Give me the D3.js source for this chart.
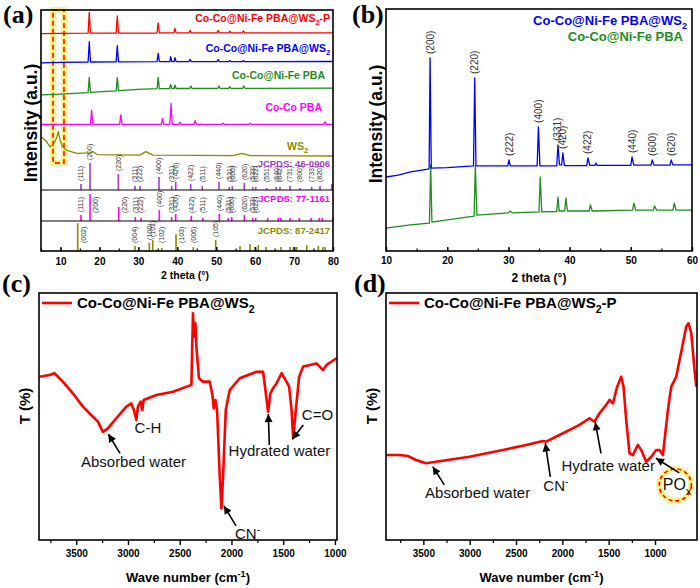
<!DOCTYPE html>
<html>
<head>
<meta charset="utf-8">
<script src="https://cdn.jsdelivr.net/npm/d3@7"></script>
<style>
  body { margin: 0; background: #fff; }
  svg { font-family: "Liberation Sans", Arial, sans-serif; }
  .frame { fill: none; stroke: #000; stroke-width: 1.6; }
</style>
</head>
<body>
<svg id="fig" width="700" height="588"></svg>
<script>
// ---------- (a) XRD, 2theta (deg) vs stacked intensity (a.u.)
const xrdPbaWs2P = [[5,86.9],[10,87.0],[17.1,87.1],[17.4,98.7],[17.7,87.1],[24.3,87.2],[24.6,96.7],[24.9,87.2],[34.8,87.2],[35.1,92.9],[35.4,87.3],[39.1,87.3],[39.4,89.8],[39.7,87.3],[43.0,87.3],[43.3,88.7],[43.6,87.3],[50.2,87.3],[50.5,88.7],[50.8,87.3],[53.2,87.3],[53.5,88.3],[53.8,87.3],[56.7,87.3],[57.0,88.5],[57.3,87.3],[80,87.3]];
const xrdPbaWs2 = [[5,70.6],[10,70.9],[17.1,71.1],[17.4,82.4],[17.7,71.1],[24.3,71.2],[24.6,80.2],[24.9,71.2],[34.8,71.3],[35.1,75.9],[35.4,71.3],[38.1,71.3],[38.3,74.1],[38.6,71.3],[39.2,71.3],[39.4,73.5],[39.7,71.3],[43.0,71.3],[43.3,72.6],[43.6,71.3],[50.2,71.3],[50.5,72.4],[50.8,71.3],[53.2,71.3],[53.5,71.9],[53.8,71.3],[56.7,71.3],[57.0,71.9],[57.3,71.3],[80,71.4]];
const xrdPba = [[5,52.8],[10,53.3],[17.1,54.1],[17.4,62.6],[17.7,54.2],[24.3,55.1],[24.6,62.4],[24.9,55.2],[30,55.9],[34.8,56.3],[35.1,62.6],[35.4,56.3],[38.0,56.4],[38.3,58.7],[38.6,56.4],[39.2,56.4],[39.4,58.3],[39.7,56.4],[43.2,56.4],[43.5,57.8],[43.8,56.4],[50.4,56.5],[50.7,57.8],[51.0,56.5],[53.2,56.5],[53.5,57.4],[53.8,56.5],[56.8,56.5],[57.1,57.8],[57.4,56.5],[80,56.6]];
const xrdCoCo = [[5,36.4],[17.7,36.5],[18.0,44.4],[18.3,36.5],[25.2,36.5],[25.5,41.7],[25.8,36.5],[35.9,36.5],[36.2,39.8],[36.5,36.5],[38.1,36.5],[38.4,48.1],[38.7,36.5],[40.4,36.5],[40.7,37.6],[41.0,36.5],[44.3,36.5],[44.6,38.5],[44.9,36.5],[51.5,36.5],[51.8,37.1],[52.1,36.5],[58.4,36.5],[58.7,37.1],[59.0,36.5],[77.7,36.5],[78.0,37.9],[78.3,36.5],[80,36.5]];
const xrdWs2 = [[5,29.6],[6.3,27.2],[7.3,24.1],[8.1,25.0],[8.9,28.3],[9.45,32.4],[9.9,27.8],[10.4,24.4],[11.4,22.2],[14.2,20.4],[17.6,20.6],[18.4,21.3],[19.4,19.7],[25,19.5],[30.4,19.4],[31.9,21.3],[33.8,19.4],[45,19.2],[54.3,19.1],[56.6,20.4],[58.7,19.1],[70,19.0],[80,18.9]];

// reference patterns: position (deg), relative intensity (%), hkl
const pos46 = [15.27,17.59,24.86,29.15,30.43,35.31,38.57,39.6,43.45,46.43,50.72,53.37,54.14,57.22,59.38,60.15,62.97,65.4,66.39,68.96,71.53,74.53,76.67,79.67];
const int46 = [21,96,57,14,14,46,14,29,21,14,29,11,14,25,11,11,7,11,11,14,7,11,14,21];
const hkl46 = ["(111)","(200)","(220)","(311)","(222)","(400)","(331)","(420)","(422)","(511)","(440)","(531)","(600)","(620)","(533)","(622)","(551)","(640)","(642)","(731)","(800)","(733)","(820)",""];
const pos77 = [15.27,17.59,24.96,29.22,30.69,35.39,38.57,39.6,43.61,46.54,50.8,53.11,53.99,57.22,59.38,60.15,63.23,65.96,66.57,68.96,71.35,74.36,76.49,77.26,79.93];
const int77 = [21,96,50,14,11,39,14,25,18,11,25,11,14,21,11,11,11,11,11,11,11,11,11,11,11];
const hkl77 = ["(111)","(200)","(220)","(311)","(222)","(400)","(331)","(420)","(422)","(511)","(440)","(531)","(600)","(620)","(533)","(622)","","","","","","","","",""];
const pos87 = [14.43,29.15,32.82,33.69,36.0,39.68,44.12,49.87,56.12,58.69,59.97,60.82,62.8,66.65,68.96,69.81,70.68,73.25,76.23,77.36,77.95];
const int87 = [99,18,29,39,11,60,14,39,18,25,14,21,14,14,14,14,14,21,18,14,14];
const hkl87 = ["(002)","(004)","(100)","(101)","(102)","(103)","(006)","(105)","","","","","","","","","","","","",""];

// ---------- (b) XRD zoom
const xrdBWs2 = [[10,30.7],[12,31.5],[14,32.8],[16.9,34.0],[17.05,34.4],[17.2,80.1],[17.4,34.4],[20,34.6],[24.3,35.3],[24.5,71.8],[24.7,35.3],[29.9,35.3],[30.1,37.8],[30.3,35.3],[34.7,35.3],[34.9,51.5],[35.15,35.3],[37.9,35.3],[38.1,44.0],[38.35,35.7],[38.7,35.7],[38.9,40.7],[39.15,35.4],[42.8,35.4],[43.0,38.6],[43.3,35.5],[44.1,35.5],[44.3,36.5],[44.5,35.5],[50.0,35.5],[50.2,39.0],[50.5,35.6],[53.3,35.6],[53.5,37.8],[53.8,35.6],[56.4,35.6],[56.6,37.8],[56.9,35.7],[60,35.7]];
const xrdBPba = [[10,9.5],[14,10.8],[17.1,11.6],[17.3,35.7],[17.5,12.0],[20,12.9],[24.4,14.5],[24.6,35.3],[24.85,14.9],[30.0,15.8],[30.3,16.6],[30.6,15.8],[35.0,16.2],[35.2,30.7],[35.45,16.2],[37.9,16.4],[38.1,22.4],[38.3,16.6],[39.2,16.6],[39.4,22.0],[39.65,16.6],[43.2,16.6],[43.4,19.1],[43.7,16.6],[50.3,17.0],[50.5,19.9],[50.8,17.0],[53.7,17.0],[53.9,18.7],[54.2,17.0],[56.9,17.0],[57.1,19.9],[57.4,17.0],[60,17.0]];
const bPeakPos = [17.2,24.5,30.1,34.9,38.1,38.9,43.0,50.2,53.5,56.6];
const bPeakHkl = ["(200)","(220)","(222)","(400)","(331)","(420)","(422)","(440)","(600)","(620)"];

// ---------- (c), (d) FTIR, wavenumber (cm-1) vs T (%)
const ftirWs2 = [[3855,66.1],[3758,66.8],[3710,67.5],[3662,65.5],[3630,64.1],[3533,59.4],[3436,54.0],[3339,49.9],[3291,47.9],[3243,43.8],[3194,45.2],[3113,49.3],[3016,54.0],[2968,55.3],[2943,52.6],[2919,48.6],[2904,54.0],[2878,56.0],[2861,52.6],[2849,56.7],[2726,58.7],[2565,60.0],[2387,62.8],[2372,91.8],[2362,82.3],[2348,87.7],[2339,78.3],[2314,65.5],[2275,64.1],[2210,64.1],[2184,58.7],[2171,53.3],[2155,56.7],[2139,52.6],[2113,25.6],[2097,12.8],[2081,25.6],[2055,52.6],[2017,60.7],[1920,65.5],[1758,68.1],[1694,68.1],[1668,59.4],[1646,51.9],[1623,59.4],[1598,61.4],[1565,63.4],[1516,67.5],[1468,64.1],[1443,62.1],[1419,52.6],[1404,41.2],[1378,52.6],[1346,66.1],[1307,70.2],[1178,71.5],[1114,68.8],[1081,70.9],[984,73.6]];
const ftirWs2P = [[3900,34.4],[3759,34.4],[3668,34.0],[3579,32.4],[3471,31.1],[3363,31.7],[3003,33.7],[2642,36.4],[2391,38.5],[2210,40.1],[2175,39.8],[2031,42.5],[1815,46.6],[1707,49.3],[1653,47.9],[1599,51.3],[1527,54.7],[1491,56.7],[1455,55.3],[1408,62.1],[1365,66.1],[1340,62.1],[1311,48.6],[1275,35.1],[1239,34.4],[1185,38.5],[1149,36.4],[1095,31.7],[1041,33.7],[987,36.4],[951,36.4],[915,34.4],[861,52.6],[825,62.1],[771,66.1],[699,79.6],[663,86.4],[638,87.7],[609,83.7],[573,68.8],[555,62.1]];

const RED = "#ff0000", BLUE = "#0000ff", GREEN = "#1e8c1e", MAG = "#ff00ff", OLIVE = "#8a8a00", PURPLE = "#a23bd8";
const svg = d3.select("#fig");
const FONT = "'Liberation Sans', Arial, sans-serif";

svg.append("defs").append("marker")
  .attr("id", "arr").attr("viewBox", "0 0 10 10").attr("refX", 10).attr("refY", 5)
  .attr("markerWidth", 9).attr("markerHeight", 8).attr("markerUnits", "userSpaceOnUse")
  .attr("orient", "auto")
  .append("path").attr("d", "M0,0L10,5L0,10z").attr("fill", "#000");

const lineOf = (x, y) => d3.line().x(d => x(d[0])).y(d => y(d[1]));

// text with sub/superscript parts
function rich(t, segs, fs) {
  let shift = 0;
  segs.forEach(([s, m]) => {
    const target = m === "sub" ? fs * 0.3 : m === "sup" ? -fs * 0.4 : 0;
    t.append("tspan").attr("dy", target - shift).attr("font-size", m ? fs * 0.7 : fs).text(s);
    shift = target;
  });
}

function bottomAxis(g, x, y0, majors, minors, inside, fs, pad) {
  const big = inside ? -4 : 5, small = inside ? -2.5 : 3;
  g.append("g").attr("transform", `translate(0,${y0})`)
    .call(d3.axisBottom(x).tickValues(minors).tickSize(small).tickFormat(""))
    .call(a => a.select(".domain").remove())
    .selectAll("line").attr("stroke-width", 1.2);
  g.append("g").attr("transform", `translate(0,${y0})`)
    .attr("font-family", FONT).attr("font-size", fs).attr("font-weight", "bold")
    .call(d3.axisBottom(x).tickValues(majors).tickSize(big).tickPadding(pad).tickFormat(d3.format("d")))
    .call(a => a.select(".domain").remove())
    .call(a => a.selectAll("line").attr("stroke-width", 1.4))
    .call(a => a.selectAll("text").attr("fill", "#000"));
}

function frame(g, P) {
  g.append("rect").attr("class", "frame").attr("x", P.l).attr("y", P.t)
    .attr("width", P.r - P.l).attr("height", P.b - P.t);
}

function yTitle(g, x, y, fs, txt) {
  g.append("text").attr("transform", `translate(${x},${y}) rotate(-90)`)
    .attr("text-anchor", "middle").attr("font-size", fs).attr("font-weight", "bold").text(txt);
}

function panelTag(x, y, s) {
  svg.append("text").attr("x", x).attr("y", y).attr("font-family", "'Liberation Serif', 'Times New Roman', serif")
    .attr("font-size", 26).attr("font-weight", "bold").text(s);
}

// ================= (a)
const A = {l: 41, r: 333, t: 10, b: 251, d1: 190, d2: 221};
const xA = d3.scaleLinear().domain([5, 80]).range([A.l, A.r]);
const yA = d3.scaleLinear().domain([0, 100]).range([A.d1, A.t]);
const gA = svg.append("g");

// highlight box around WS2 low-angle peak
const hl = [8.1, 10.9];
gA.append("rect").attr("x", xA(hl[0])).attr("y", A.t).attr("width", xA(hl[1]) - xA(hl[0])).attr("height", 153)
  .attr("fill", "none").attr("stroke", "#fff06a").attr("stroke-width", 6).attr("opacity", 0.8);
gA.append("rect").attr("x", xA(hl[0])).attr("y", A.t).attr("width", xA(hl[1]) - xA(hl[0])).attr("height", 153)
  .attr("fill", "none").attr("stroke", RED).attr("stroke-width", 1.5).attr("stroke-dasharray", "5,3");

[[xrdPbaWs2P, RED], [xrdPbaWs2, BLUE], [xrdPba, GREEN], [xrdCoCo, MAG], [xrdWs2, OLIVE]].forEach(([d, c]) => {
  gA.append("path").datum(d).attr("d", lineOf(xA, yA)).attr("fill", "none")
    .attr("stroke", c).attr("stroke-width", 1.3).attr("stroke-linejoin", "round");
});

const labA = [
  {segs: [["Co-Co@Ni-Fe PBA@WS", ""], ["2", "sub"], ["-P", ""]], c: RED, x: 330, y: 22},
  {segs: [["Co-Co@Ni-Fe PBA@WS", ""], ["2", "sub"]], c: BLUE, x: 330, y: 52},
  {segs: [["Co-Co@Ni-Fe PBA", ""]], c: GREEN, x: 325, y: 79},
  {segs: [["Co-Co PBA", ""]], c: MAG, x: 322, y: 110.5},
  {segs: [["WS", ""], ["2", "sub"]], c: OLIVE, x: 308, y: 149.5}
];
labA.forEach(L => {
  const t = gA.append("text").attr("x", L.x).attr("y", L.y).attr("text-anchor", "end")
    .attr("font-weight", "bold").attr("fill", L.c);
  rich(t, L.segs, 10.5);
});

const refs = [
  {pos: pos46, int: int46, hkl: hkl46, c: PURPLE, base: A.d1, top: A.t, lab: 182, name: "JCPDS: 46-0906", ny: 167},
  {pos: pos77, int: int77, hkl: hkl77, c: MAG, base: A.d2, top: A.d1, lab: 213, name: "JCPDS: 77-1161", ny: 201.5},
  {pos: pos87, int: int87, hkl: hkl87, c: OLIVE, base: A.b, top: A.d2, lab: 243, name: "JCPDS: 87-2417", ny: 234}
];
refs.forEach(r => {
  const h = d3.scaleLinear().domain([0, 100]).range([r.base, r.base - 28]);
  const idx = d3.range(r.pos.length);
  gA.append("g").selectAll("line").data(idx).join("line")
    .attr("x1", i => xA(r.pos[i])).attr("x2", i => xA(r.pos[i]))
    .attr("y1", r.base).attr("y2", i => h(r.int[i]))
    .attr("stroke", r.c).attr("stroke-width", 1.6);
  gA.append("g").selectAll("text").data(idx.filter(i => r.hkl[i])).join("text")
    .attr("transform", i => {
      let x = xA(r.pos[i]), yb = Math.min(r.lab, h(r.int[i]) - 3);
      if (yb - 17 < r.top - 1) { x += 6; yb = r.lab; }
      return `translate(${x},${yb}) rotate(-90)`;
    })
    .attr("dy", "0.35em").attr("font-size", 7).attr("fill", "#333").text(i => r.hkl[i]);
  gA.append("text").attr("x", A.r - 3).attr("y", r.ny).attr("text-anchor", "end")
    .attr("font-size", 9.5).attr("font-weight", "bold").attr("fill", r.c).text(r.name);
});
[A.d1, A.d2].forEach(y => gA.append("line").attr("x1", A.l).attr("x2", A.r).attr("y1", y).attr("y2", y)
  .attr("stroke", "#000").attr("stroke-width", 1.2));

bottomAxis(gA, xA, A.b, d3.range(10, 81, 10), d3.range(5, 81, 5), true, 11, 7);
frame(gA, A);
gA.append("text").attr("x", 185).attr("y", 279).attr("text-anchor", "middle")
  .attr("font-size", 10.5).attr("font-weight", "bold").text("2 theta (°)");
yTitle(gA, 37, 123, 17.5, "Intensity (a.u.)");
panelTag(3, 23, "(a)");

// ================= (b)
const B = {l: 386, r: 692, t: 9, b: 251};
const xB = d3.scaleLinear().domain([10, 60]).range([B.l, B.r]);
const yB = d3.scaleLinear().domain([0, 100]).range([B.b, 10]);
const gB = svg.append("g");
[[xrdBPba, GREEN], [xrdBWs2, BLUE]].forEach(([d, c]) => {
  gB.append("path").datum(d).attr("d", lineOf(xB, yB)).attr("fill", "none")
    .attr("stroke", c).attr("stroke-width", 1.3).attr("stroke-linejoin", "round");
});
gB.append("g").selectAll("text").data(d3.range(bPeakPos.length)).join("text")
  .attr("transform", i => {
    const v = d3.max(xrdBWs2.filter(d => Math.abs(d[0] - bPeakPos[i]) < 0.15), d => d[1]);
    return `translate(${xB(bPeakPos[i])},${yB(v) - 4}) rotate(-90)`;
  })
  .attr("dy", "0.35em").attr("font-size", 10).attr("fill", "#333").text(i => bPeakHkl[i]);
const lb1 = gB.append("text").attr("x", 687).attr("y", 25).attr("text-anchor", "end")
  .attr("font-weight", "bold").attr("fill", BLUE);
rich(lb1, [["Co-Co@Ni-Fe PBA@WS", ""], ["2", "sub"]], 13);
gB.append("text").attr("x", 683).attr("y", 41).attr("text-anchor", "end")
  .attr("font-weight", "bold").attr("fill", GREEN).attr("font-size", 13).text("Co-Co@Ni-Fe PBA");
bottomAxis(gB, xB, B.b, d3.range(10, 61, 10), d3.range(10, 61, 5), true, 12, 6);
frame(gB, B);
gB.append("text").attr("x", 539).attr("y", 282).attr("text-anchor", "middle")
  .attr("font-size", 12).attr("font-weight", "bold").text("2 theta (°)");
yTitle(gB, 382, 124, 17.5, "Intensity (a.u.)");
panelTag(352, 23, "(b)");

// ================= FTIR panels
function ftirPanel(P, dom, data, legend, notes) {
  const g = svg.append("g");
  const x = d3.scaleLinear().domain(dom).range([P.l, P.r]);
  const y = d3.scaleLinear().domain([0, 100]).range([P.b, P.t]);
  g.append("path").datum(data).attr("d", lineOf(x, y)).attr("fill", "none")
    .attr("stroke", RED).attr("stroke-width", 2.6).attr("stroke-linejoin", "round");
  g.append("line").attr("x1", P.l + 3).attr("x2", P.l + 33).attr("y1", 303).attr("y2", 303)
    .attr("stroke", RED).attr("stroke-width", 2.6);
  const lt = g.append("text").attr("x", P.l + 38).attr("y", 308).attr("font-weight", "bold");
  rich(lt, legend, 15);
  notes.forEach(n => {
    if (n.ring) {
      const [cx, cy] = [x(n.ring[0]), y(n.ring[1])];
      g.append("circle").attr("cx", cx).attr("cy", cy).attr("r", 16).attr("fill", "none")
        .attr("stroke", "#fff06a").attr("stroke-width", 6).attr("opacity", 0.8);
      g.append("circle").attr("cx", cx).attr("cy", cy).attr("r", 16).attr("fill", "none")
        .attr("stroke", RED).attr("stroke-width", 1.6).attr("stroke-dasharray", "4,3");
    }
    if (n.arrow) {
      g.append("line").attr("x1", x(n.arrow[0][0])).attr("y1", y(n.arrow[0][1]))
        .attr("x2", x(n.arrow[1][0])).attr("y2", y(n.arrow[1][1]))
        .attr("stroke", "#000").attr("stroke-width", 1.6).attr("marker-end", "url(#arr)");
    }
    const t = g.append("text").attr("x", x(n.at[0])).attr("y", y(n.at[1]))
      .attr("text-anchor", n.anchor).attr("fill", "#111");
    rich(t, n.segs, n.fs || 15);
  });
  bottomAxis(g, x, P.b, d3.range(1000, 3501, 500), d3.range(1000, 3751, 250).filter(v => v % 500), false, 12, 5);
  frame(g, P);
  const xt = g.append("text").attr("x", (P.l + P.r) / 2).attr("y", 582).attr("text-anchor", "middle")
    .attr("font-weight", "bold");
  rich(xt, [["Wave number (cm", ""], ["-1", "sup"], [")", ""]], 13);
  yTitle(g, P.l - 9, 406, 15, "T (%)");
}

ftirPanel({l: 39, r: 337, t: 293, b: 540}, [3860, 980], ftirWs2,
  [["Co-Co@Ni-Fe PBA@WS", ""], ["2", "sub"]],
  [
    {segs: [["Absorbed water", ""]], at: [2947, 29.6], anchor: "middle", arrow: [[3077, 35.1], [3190, 42.9]]},
    {segs: [["C-H", ""]], at: [2807, 43.3], anchor: "middle"},
    {segs: [["Hydrated water", ""]], at: [1536, 34.0], anchor: "middle", arrow: [[1634, 38.5], [1644, 51.0]]},
    {segs: [["C=O", ""]], at: [1169, 48.6], anchor: "middle", arrow: [[1306, 46.6], [1412, 40.8]]},
    {segs: [["CN", ""], ["-", "sup"]], at: [1966, 0.6], anchor: "start", arrow: [[1956, 5.7], [2072, 13.8]]}
  ]);
panelTag(2, 292, "(c)");

ftirPanel({l: 386, r: 697, t: 293, b: 540}, [3903, 547], ftirWs2P,
  [["Co-Co@Ni-Fe PBA@WS", ""], ["2", "sub"], ["-P", ""]],
  [
    {segs: [["Absorbed water", ""]], at: [2914, 17.0], anchor: "middle", arrow: [[3274, 22.3], [3399, 29.7]]},
    {segs: [["CN", ""], ["-", "sup"]], at: [2205, 20.0], anchor: "start", arrow: [[2130, 25.6], [2184, 39.1]]},
    {segs: [["Hydrate water", ""]], at: [1505, 27.8], anchor: "middle", arrow: [[1583, 35.1], [1645, 47.7]]},
    {segs: [["PO", ""], ["x", "sub"]], at: [917, 20.2], anchor: "start", fs: 16, ring: [781, 22.3], arrow: [[738, 27.2], [990, 33.1]]}
  ]);
panelTag(354, 292, "(d)");
</script>
</body>
</html>
